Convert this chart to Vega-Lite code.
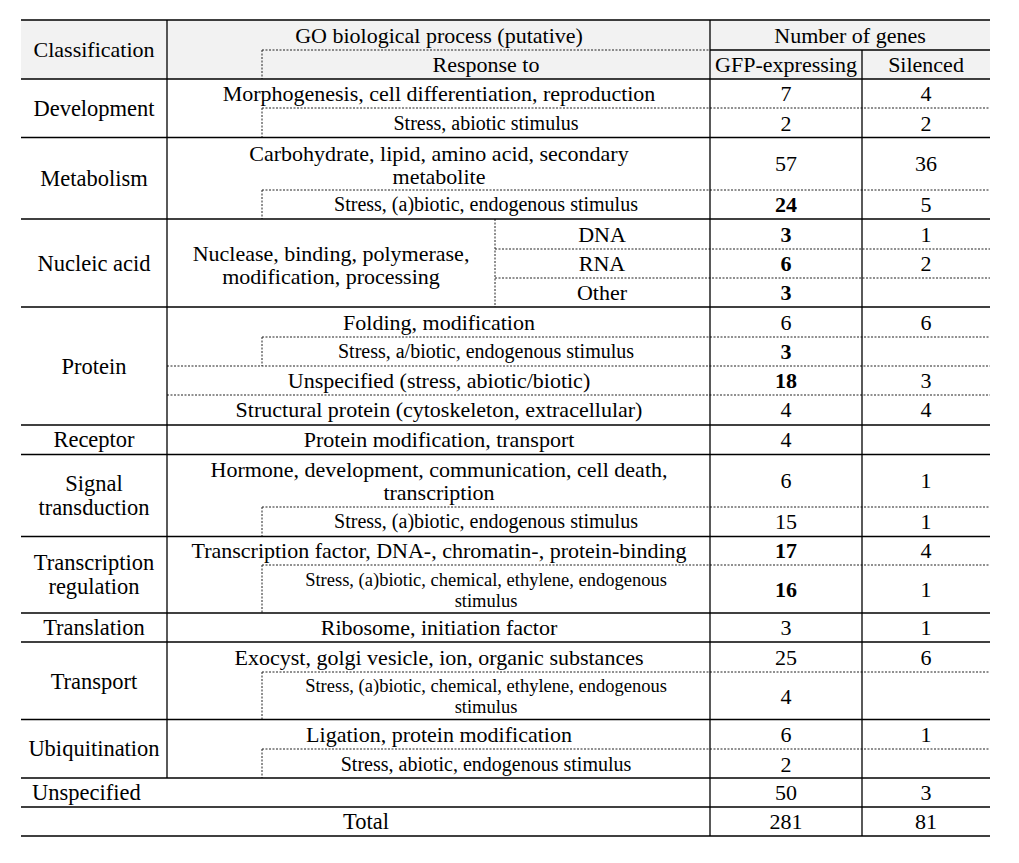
{
  "$schema": "https://vega.github.io/schema/vega-lite/v6.json",
  "width": 1019,
  "height": 863,
  "padding": 0,
  "autosize": {"type": "none"},
  "background": "white",
  "config": {"view": {"stroke": null}},
  "datasets": {
    "shade": [{"x1": 21, "x2": 990, "y1": 20, "y2": 79}],
    "solid": [
      {"x1": 21, "x2": 990, "y1": 20, "y2": 20},
      {"x1": 710, "x2": 990, "y1": 50, "y2": 50},
      {"x1": 21, "x2": 990, "y1": 79, "y2": 79},
      {"x1": 21, "x2": 990, "y1": 137.5, "y2": 137.5},
      {"x1": 21, "x2": 990, "y1": 219, "y2": 219},
      {"x1": 21, "x2": 990, "y1": 307, "y2": 307},
      {"x1": 21, "x2": 990, "y1": 425, "y2": 425},
      {"x1": 21, "x2": 990, "y1": 454.5, "y2": 454.5},
      {"x1": 21, "x2": 990, "y1": 536.5, "y2": 536.5},
      {"x1": 21, "x2": 990, "y1": 613, "y2": 613},
      {"x1": 21, "x2": 990, "y1": 642, "y2": 642},
      {"x1": 21, "x2": 990, "y1": 719.5, "y2": 719.5},
      {"x1": 21, "x2": 990, "y1": 778, "y2": 778},
      {"x1": 21, "x2": 990, "y1": 807, "y2": 807},
      {"x1": 21, "x2": 990, "y1": 836, "y2": 836},
      {"x1": 167, "x2": 167, "y1": 20, "y2": 778},
      {"x1": 710, "x2": 710, "y1": 20, "y2": 836},
      {"x1": 862, "x2": 862, "y1": 50, "y2": 836}
    ],
    "dashed": [
      {"x1": 262, "x2": 710, "y1": 50, "y2": 50},
      {"x1": 262, "x2": 990, "y1": 108, "y2": 108},
      {"x1": 262, "x2": 990, "y1": 190, "y2": 190},
      {"x1": 495, "x2": 990, "y1": 249, "y2": 249},
      {"x1": 495, "x2": 990, "y1": 278, "y2": 278},
      {"x1": 262, "x2": 990, "y1": 337, "y2": 337},
      {"x1": 167, "x2": 990, "y1": 366, "y2": 366},
      {"x1": 167, "x2": 990, "y1": 395, "y2": 395},
      {"x1": 262, "x2": 990, "y1": 507, "y2": 507},
      {"x1": 262, "x2": 990, "y1": 565, "y2": 565},
      {"x1": 262, "x2": 990, "y1": 672, "y2": 672},
      {"x1": 262, "x2": 990, "y1": 749, "y2": 749},
      {"x1": 262, "x2": 262, "y1": 50, "y2": 79},
      {"x1": 262, "x2": 262, "y1": 108, "y2": 137.5},
      {"x1": 262, "x2": 262, "y1": 190, "y2": 219},
      {"x1": 262, "x2": 262, "y1": 337, "y2": 366},
      {"x1": 262, "x2": 262, "y1": 507, "y2": 536.5},
      {"x1": 262, "x2": 262, "y1": 565, "y2": 613},
      {"x1": 262, "x2": 262, "y1": 672, "y2": 719.5},
      {"x1": 262, "x2": 262, "y1": 749, "y2": 778},
      {"x1": 495, "x2": 495, "y1": 219, "y2": 307}
    ],
    "header": [
      {"x": 94, "y": 50, "label": "Classification"},
      {"x": 439, "y": 36, "label": "GO biological process (putative)"},
      {"x": 486, "y": 65, "label": "Response to"},
      {"x": 850, "y": 36, "label": "Number of genes"},
      {"x": 786, "y": 65, "label": "GFP-expressing"},
      {"x": 926, "y": 65, "label": "Silenced"}
    ],
    "classes": [
      {"x": 94, "y": 109, "label": "Development"},
      {"x": 94, "y": 179, "label": "Metabolism"},
      {"x": 94, "y": 264, "label": "Nucleic acid"},
      {"x": 94, "y": 367, "label": "Protein"},
      {"x": 94, "y": 440, "label": "Receptor"},
      {"x": 94, "y": 484, "label": "Signal\ntransduction"},
      {"x": 94, "y": 563, "label": "Transcription\nregulation"},
      {"x": 94, "y": 628, "label": "Translation"},
      {"x": 94, "y": 682, "label": "Transport"},
      {"x": 94, "y": 749, "label": "Ubiquitination"},
      {"x": 366, "y": 822, "label": "Total"}
    ],
    "leftclasses": [
      {"x": 32, "y": 793, "label": "Unspecified"}
    ],
    "processes": [
      {"x": 439, "y": 94, "label": "Morphogenesis, cell differentiation, reproduction"},
      {"x": 439, "y": 153.5, "label": "Carbohydrate, lipid, amino acid, secondary\nmetabolite"},
      {"x": 331, "y": 253.5, "label": "Nuclease, binding, polymerase,\nmodification, processing"},
      {"x": 602, "y": 235, "label": "DNA"},
      {"x": 602, "y": 264, "label": "RNA"},
      {"x": 602, "y": 293, "label": "Other"},
      {"x": 439, "y": 323, "label": "Folding, modification"},
      {"x": 439, "y": 381, "label": "Unspecified (stress, abiotic/biotic)"},
      {"x": 439, "y": 410, "label": "Structural protein (cytoskeleton, extracellular)"},
      {"x": 439, "y": 440, "label": "Protein modification, transport"},
      {"x": 439, "y": 469.5, "label": "Hormone, development, communication, cell death,\ntranscription"},
      {"x": 439, "y": 551, "label": "Transcription factor, DNA-, chromatin-, protein-binding"},
      {"x": 439, "y": 628, "label": "Ribosome, initiation factor"},
      {"x": 439, "y": 658, "label": "Exocyst, golgi vesicle, ion, organic substances"},
      {"x": 439, "y": 735, "label": "Ligation, protein modification"}
    ],
    "responses": [
      {"x": 486, "y": 124, "label": "Stress, abiotic stimulus"},
      {"x": 486, "y": 205, "label": "Stress, (a)biotic, endogenous stimulus"},
      {"x": 486, "y": 352, "label": "Stress, a/biotic, endogenous stimulus"},
      {"x": 486, "y": 522, "label": "Stress, (a)biotic, endogenous stimulus"},
      {"x": 486, "y": 765, "label": "Stress, abiotic, endogenous stimulus"}
    ],
    "responses2": [
      {"x": 486, "y": 580, "label": "Stress, (a)biotic, chemical, ethylene, endogenous\nstimulus"},
      {"x": 486, "y": 686, "label": "Stress, (a)biotic, chemical, ethylene, endogenous\nstimulus"}
    ],
    "counts": [
      {"x": 786, "y": 94, "label": "7"}, {"x": 926, "y": 94, "label": "4"},
      {"x": 786, "y": 124, "label": "2"}, {"x": 926, "y": 124, "label": "2"},
      {"x": 786, "y": 164, "label": "57"}, {"x": 926, "y": 164, "label": "36"},
      {"x": 926, "y": 205, "label": "5"},
      {"x": 926, "y": 235, "label": "1"},
      {"x": 926, "y": 264, "label": "2"},
      {"x": 786, "y": 323, "label": "6"}, {"x": 926, "y": 323, "label": "6"},
      {"x": 926, "y": 381, "label": "3"},
      {"x": 786, "y": 410, "label": "4"}, {"x": 926, "y": 410, "label": "4"},
      {"x": 786, "y": 440, "label": "4"},
      {"x": 786, "y": 481, "label": "6"}, {"x": 926, "y": 481, "label": "1"},
      {"x": 786, "y": 522, "label": "15"}, {"x": 926, "y": 522, "label": "1"},
      {"x": 926, "y": 551, "label": "4"},
      {"x": 926, "y": 590, "label": "1"},
      {"x": 786, "y": 628, "label": "3"}, {"x": 926, "y": 628, "label": "1"},
      {"x": 786, "y": 658, "label": "25"}, {"x": 926, "y": 658, "label": "6"},
      {"x": 786, "y": 697, "label": "4"},
      {"x": 786, "y": 735, "label": "6"}, {"x": 926, "y": 735, "label": "1"},
      {"x": 786, "y": 765, "label": "2"},
      {"x": 786, "y": 793, "label": "50"}, {"x": 926, "y": 793, "label": "3"},
      {"x": 786, "y": 822, "label": "281"}, {"x": 926, "y": 822, "label": "81"}
    ],
    "highlighted": [
      {"x": 786, "y": 205, "label": "24"},
      {"x": 786, "y": 235, "label": "3"},
      {"x": 786, "y": 264, "label": "6"},
      {"x": 786, "y": 293, "label": "3"},
      {"x": 786, "y": 352, "label": "3"},
      {"x": 786, "y": 381, "label": "18"},
      {"x": 786, "y": 551, "label": "17"},
      {"x": 786, "y": 590, "label": "16"}
    ]
  },
  "encoding": {
    "x": {"field": "x1", "type": "quantitative", "axis": null, "scale": {"domain": [0, 1019], "nice": false, "zero": false}},
    "y": {"field": "y1", "type": "quantitative", "axis": null, "scale": {"domain": [0, 863], "nice": false, "zero": false, "reverse": true}}
  },
  "layer": [
    {
      "data": {"name": "shade"},
      "mark": {"type": "rect", "color": "#f2f2f2"},
      "encoding": {"x2": {"field": "x2"}, "y2": {"field": "y2"}}
    },
    {
      "data": {"name": "dashed"},
      "mark": {"type": "rule", "color": "#222222", "strokeWidth": 1, "strokeDash": [2, 1.5]},
      "encoding": {"x2": {"field": "x2"}, "y2": {"field": "y2"}}
    },
    {
      "data": {"name": "solid"},
      "mark": {"type": "rule", "color": "black", "strokeWidth": 1.3},
      "encoding": {"x2": {"field": "x2"}, "y2": {"field": "y2"}}
    },
    {
      "data": {"name": "header"},
      "mark": {"type": "text", "font": "Liberation Serif", "color": "black", "fontSize": 22, "align": "center", "baseline": "middle"},
      "encoding": {"x": {"field": "x", "type": "quantitative"}, "y": {"field": "y", "type": "quantitative"}, "text": {"field": "label"}}
    },
    {
      "data": {"name": "classes"},
      "mark": {"type": "text", "font": "Liberation Serif", "color": "black", "fontSize": 22.5, "align": "center", "baseline": "middle", "lineBreak": "\n", "lineHeight": 23.5},
      "encoding": {"x": {"field": "x", "type": "quantitative"}, "y": {"field": "y", "type": "quantitative"}, "text": {"field": "label"}}
    },
    {
      "data": {"name": "leftclasses"},
      "mark": {"type": "text", "font": "Liberation Serif", "color": "black", "fontSize": 22.5, "align": "left", "baseline": "middle"},
      "encoding": {"x": {"field": "x", "type": "quantitative"}, "y": {"field": "y", "type": "quantitative"}, "text": {"field": "label"}}
    },
    {
      "data": {"name": "processes"},
      "mark": {"type": "text", "font": "Liberation Serif", "color": "black", "fontSize": 22, "align": "center", "baseline": "middle", "lineBreak": "\n", "lineHeight": 23},
      "encoding": {"x": {"field": "x", "type": "quantitative"}, "y": {"field": "y", "type": "quantitative"}, "text": {"field": "label"}}
    },
    {
      "data": {"name": "responses"},
      "mark": {"type": "text", "font": "Liberation Serif", "color": "black", "fontSize": 20, "align": "center", "baseline": "middle"},
      "encoding": {"x": {"field": "x", "type": "quantitative"}, "y": {"field": "y", "type": "quantitative"}, "text": {"field": "label"}}
    },
    {
      "data": {"name": "responses2"},
      "mark": {"type": "text", "font": "Liberation Serif", "color": "black", "fontSize": 18.5, "align": "center", "baseline": "middle", "lineBreak": "\n", "lineHeight": 21},
      "encoding": {"x": {"field": "x", "type": "quantitative"}, "y": {"field": "y", "type": "quantitative"}, "text": {"field": "label"}}
    },
    {
      "data": {"name": "counts"},
      "mark": {"type": "text", "font": "Liberation Serif", "color": "black", "fontSize": 22, "align": "center", "baseline": "middle"},
      "encoding": {"x": {"field": "x", "type": "quantitative"}, "y": {"field": "y", "type": "quantitative"}, "text": {"field": "label"}}
    },
    {
      "data": {"name": "highlighted"},
      "mark": {"type": "text", "font": "Liberation Serif", "color": "black", "fontSize": 22, "fontWeight": "bold", "align": "center", "baseline": "middle"},
      "encoding": {"x": {"field": "x", "type": "quantitative"}, "y": {"field": "y", "type": "quantitative"}, "text": {"field": "label"}}
    }
  ]
}
